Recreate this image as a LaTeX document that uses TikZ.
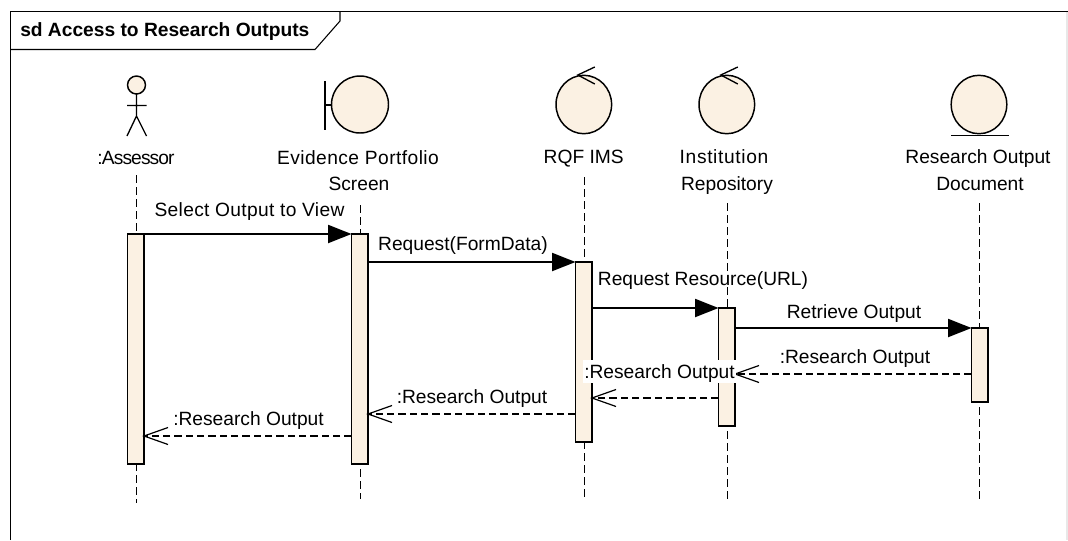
\documentclass[tikz,border=0pt]{standalone}
\usepackage{fontspec}
\setmainfont{Liberation Sans}
\usetikzlibrary{arrows.meta}
\definecolor{umlfill}{HTML}{FBF1E3}
\newcommand\spc[1]{\addfontfeature{LetterSpace=#1}}
\tikzset{
  obj/.style={draw=black,line width=1.1pt,fill=umlfill},
  bar/.style={draw=black,line width=1.1pt,fill=umlfill,inner sep=0pt,outer sep=0pt,minimum width=12.4pt,anchor=north west},
  life/.style={draw=black,line width=1pt,dash pattern=on 6pt off 3pt},
  callmsg/.style={draw=black,line width=1.3pt,-{Triangle[length=17.5bp,width=13.5bp,fill=black]}},
  retmsg/.style={draw=black,line width=1pt,dash pattern=on 5.5pt off 3pt},
  openhead/.style={draw=black,line width=.9pt,solid},
  lbl/.style={font=\fontsize{14.4}{17}\selectfont,text=black,inner sep=0pt,align=center,text height=10.3pt,text depth=0pt},
}
\begin{document}
\begin{tikzpicture}[x=.75pt,y=-.75pt]
\useasboundingbox (0,0) rectangle (1068,540);
% frame
\fill[black!9] (1066,11) rectangle (1068,540);
\draw[line width=.9pt] (10.5,540) -- (10.5,11.5) -- (1068,11.5);
\draw[line width=.8pt] (340,11.5) -- (340,21) -- (315,49.5) -- (10.5,49.5);
\node[font=\bfseries\fontsize{14.4}{17}\selectfont,anchor=west,inner sep=0pt,text height=10.3pt,text depth=0pt] (title) at (20,29.5) {sd Access to Research Outputs};
% lifelines
\coordinate (a1) at (136.5,175); \coordinate (a2) at (136.5,503);
\coordinate (e1) at (360.5,205); \coordinate (e2) at (360.5,499);
\coordinate (r1) at (584.5,177); \coordinate (r2) at (584.5,499);
\coordinate (i1) at (727.5,203); \coordinate (i2) at (727.5,499);
\coordinate (d1) at (979.5,203); \coordinate (d2) at (979.5,499);
\foreach \p in {a,e,r,i,d} \draw[life] (\p1) -- (\p2);
% actor
\draw[obj] (136.5,85) circle (9);
\draw[line width=1pt] (136.5,94) -- (136.5,116) (127,105.5) -- (146.5,105.5)
  (127,136) -- (136.5,116) -- (146.5,136);
% boundary
\draw[obj] (360,104.5) circle (28.5);
\draw[line width=1.1pt] (325,81) -- (325,129.5) (325,105) -- (331.5,105);
% controls
\foreach \cx in {583.8,726.8} {
  \draw[obj] (\cx,104.5) ellipse (27.8 and 29.2);
  \draw[line width=1pt] (\cx+11,67) -- (\cx-6,75) -- (\cx+11,84);
}
% entity
\draw[obj] (979,104.5) ellipse (27.8 and 29.2);
\draw[line width=1.1pt] (951,135.5) -- (1009,135.5);
% labels
\node[lbl,font=\fontsize{14.4}{17}\selectfont\spc{-4.6}] (la) at (136,158) {:Assessor};
\node[lbl,font=\fontsize{14.4}{17}\selectfont\spc{2.3}] (le) at (358,158) {Evidence Portfolio};
\node[lbl] (le2) at (359,184) {Screen};
\node[lbl] (lr) at (583.7,157) {RQF IMS};
\node[lbl,font=\fontsize{14.4}{17}\selectfont\spc{3.3}] (li) at (724,157) {Institution};
\node[lbl] (li2) at (727,184) {Repository};
\node[lbl] (ld) at (978,157) {Research Output};
\node[lbl] (ld2) at (980,184) {Document};
% bars
\node[bar,minimum height=172.5pt] (ba) at (127.5,234) {};
\node[bar,minimum height=172.5pt] (be) at (351.5,234) {};
\node[bar,minimum height=135pt] (br) at (575.5,262) {};
\node[bar,minimum height=88.5pt] (bi) at (718.5,308) {};
\node[bar,minimum height=55.5pt] (bd) at (971.5,328) {};
% calls
\draw[callmsg] (ba.north east) -- (be.north west);
\draw[callmsg] (be.east |- 0,262) -- (br.north west);
\draw[callmsg] (br.east |- 0,308) -- (bi.north west);
\draw[callmsg] (bi.east |- 0,328) -- (bd.north west);
\node[lbl,font=\fontsize{14.4}{17}\selectfont\spc{1.7}] (m1) at (249.5,209.5) {Select Output to View};
\node[lbl] (m2) at (463,244) {Request(FormData)};
\node[lbl] (m3) at (703,279) {Request Resource(URL)};
\node[lbl] (m4) at (854,312) {Retrieve Output};
% returns
\foreach \src/\dst/\y in {bd/bi/374, bi/br/398, br/be/414, be/ba/436} {
  \draw[retmsg] (\src.west |- 0,\y) -- (\dst.east |- 0,\y);
  \draw[openhead] ([shift={(24,-8.5)}]\dst.east |- 0,\y) -- (\dst.east |- 0,\y) -- ([shift={(24,8.5)}]\dst.east |- 0,\y);
}
\node[lbl] (m5) at (855,357) {:Research Output};
\node[lbl,fill=white,minimum height=17pt,minimum width=114.5pt] (m6) at (659.5,371.5) {:Research Output};
\node[lbl] (m7) at (472,397) {:Research Output};
\node[lbl] (m8) at (248.5,419) {:Research Output};
\end{tikzpicture}
\end{document}
